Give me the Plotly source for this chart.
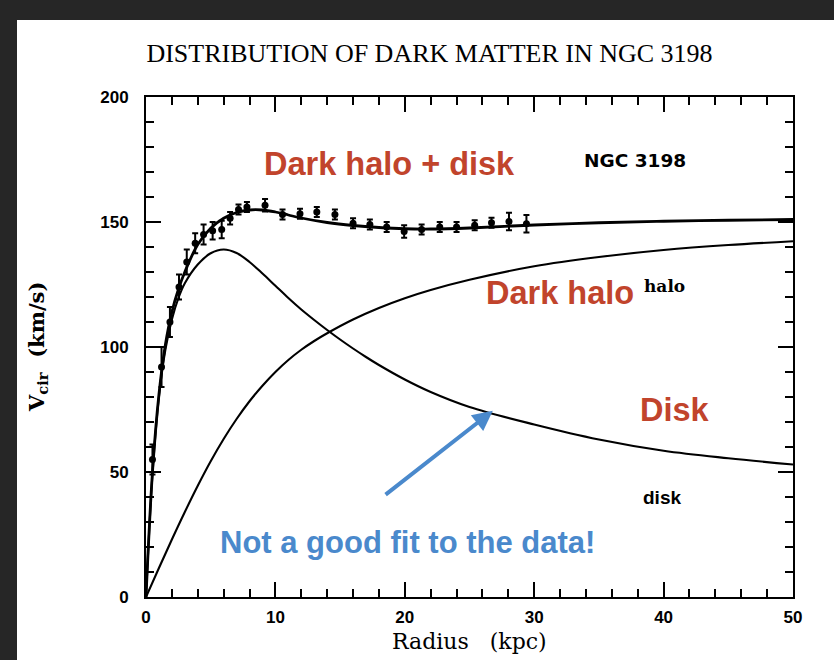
import plotly.graph_objects as go

# Observed rotation curve of NGC 3198: radius (kpc), circular velocity (km/s), error
obs_radius = [0.5, 1.2, 1.85, 2.55, 3.15, 3.8, 4.45, 5.15, 5.85, 6.5, 7.15, 7.8,
              9.2, 10.55, 11.9, 13.2, 14.6, 16.0, 17.3, 18.6, 19.95, 21.3, 22.7,
              24.0, 25.4, 26.7, 28.05, 29.4]
obs_vcir = [55, 92, 110, 124, 134, 141.5, 145, 146.5, 147, 151.5, 155, 156,
            156.7, 153, 153.3, 154, 153, 149.5, 149, 148, 146.2, 147, 148,
            148, 148.7, 149.7, 150.2, 149.3]
obs_err = [6, 8, 6, 5, 5, 4, 4, 3.5, 3.5, 2.5, 2, 2,
           2.5, 2, 2, 2, 2, 2, 2, 2, 2.5, 2, 2,
           2, 2, 2, 3.5, 3.5]

# Fitted components: disk + halo and their combined curve
total_radius = [0, 0.5, 1, 1.5, 2, 2.5, 3, 4, 5, 6, 7, 8, 9, 10, 11, 12, 14, 16,
                18, 20, 22, 25, 30, 35, 40, 45, 50]
v_total = [0, 50, 81, 101, 114, 123, 130, 141, 147.5, 151.5, 153.8, 154.8, 154.8,
           154, 152.8, 151.6, 149.8, 148.6, 147.8, 147.3, 147.2, 147.6, 148.8,
           149.7, 150.3, 150.7, 151]

disk_radius = [0, 0.5, 1, 1.5, 2, 2.5, 3, 4, 5, 6, 7, 8, 9, 10, 11, 12, 13, 14,
               15, 16, 17, 18, 20, 22, 25, 30, 35, 40, 45, 50]
v_disk = [0, 49, 80, 99, 111, 119.5, 125.5, 133, 137.5, 139, 137.6, 134, 129.4,
          124.5, 119.6, 115, 110.8, 106.8, 103, 99.4, 96, 92.8, 87, 82, 76, 69,
          63, 58.5, 55.5, 53]

halo_radius = [0, 1, 2, 3, 4, 5, 6, 7, 8, 9, 10, 11, 12, 13, 14, 16, 18, 20, 22,
               25, 30, 35, 40, 45, 50]
v_halo = [0, 11.6, 23, 34, 44.5, 54.3, 63.2, 71.2, 78.3, 84.5, 90, 94.8, 98.9,
          102.4, 105.5, 111, 115.6, 119.5, 122.8, 126.9, 132.3, 136, 138.8,
          140.8, 142.3]

x_ticks = [0, 10, 20, 30, 40, 50]
y_ticks = [0, 50, 100, 150, 200]

RED = "#c1442c"
BLUE = "#4a89cc"
BORDER = "#262626"

fig = go.Figure()

for rr, vals, w in [(total_radius, v_total, 2.8), (disk_radius, v_disk, 2.1),
                    (halo_radius, v_halo, 2.1)]:
    fig.add_trace(go.Scatter(
        x=rr, y=vals, mode="lines",
        line=dict(color="black", width=w, shape="spline", smoothing=1.0),
        hoverinfo="skip", showlegend=False))

fig.add_trace(go.Scatter(
    x=obs_radius, y=obs_vcir, mode="markers",
    marker=dict(color="black", size=7, symbol="circle"),
    error_y=dict(type="data", array=obs_err, visible=True,
                 color="black", thickness=2, width=3),
    showlegend=False))

axis_common = dict(
    showline=True, linecolor="black", linewidth=2, mirror="ticks",
    ticks="inside", ticklen=15, tickwidth=2, tickcolor="black",
    showgrid=False, zeroline=False, automargin=False,
    tickfont=dict(family="Liberation Sans", size=17, color="black", weight="bold"),
)

fig.update_xaxes(
    range=[0, 50], tickvals=x_ticks, ticktext=[str(t) for t in x_ticks],
    minor=dict(dtick=2, ticks="inside", ticklen=8, tickwidth=2, tickcolor="black"),
    ticklabelstandoff=4,
    **axis_common)
fig.update_yaxes(
    range=[0, 200], tickvals=y_ticks, ticktext=[str(t) for t in y_ticks],
    minor=dict(dtick=10, ticks="inside", ticklen=8, tickwidth=2, tickcolor="black"),
    ticklabelstandoff=12,
    **axis_common)

# Axis titles placed by hand
fig.add_annotation(x=0.5, y=(597 - 641) / 500, xref="paper", yref="paper",
                   xanchor="center", yanchor="middle",
                   text="Radius   (kpc)", showarrow=False,
                   font=dict(family="DejaVu Serif", size=22, color="black"))
fig.add_annotation(x=(37 - 146) / 647, y=0.5, xref="paper", yref="paper",
                   xanchor="center", yanchor="middle",
                   text="V<sub>cir</sub>  (km/s)", textangle=-90, showarrow=False,
                   font=dict(family="DejaVu Serif", size=21, color="black", weight="bold"))

notes = [
    ("Dark halo + disk", 18.8, 173.4, RED, "Liberation Sans", 32.5, "bold"),
    ("Dark halo", 32.0, 121.6, RED, "Liberation Sans", 32.5, "bold"),
    ("Disk", 40.85, 75, RED, "Liberation Sans", 32.5, "bold"),
    ("Not a good fit to the data!", 20.2, 22, BLUE, "Liberation Sans", 31, "bold"),
    ("NGC 3198", 37.8, 174.8, "black", "DejaVu Sans", 18.5, "bold"),
    ("halo", 40.1, 124.5, "black", "DejaVu Serif", 17, "bold"),
    ("disk", 39.85, 40, "black", "Liberation Sans", 19, "bold"),
]
for text, x, y, col, fam, size, wt in notes:
    fig.add_annotation(x=x, y=y, xref="x", yref="y", text=text, showarrow=False,
                       font=dict(family=fam, size=size, color=col, weight=wt))

# Arrow pointing at the disk curve
fig.add_annotation(x=26.8, y=74.5, ax=18.4, ay=40.5, xref="x", yref="y",
                   axref="x", ayref="y", text="", showarrow=True,
                   arrowhead=2, arrowsize=1, arrowwidth=4, arrowcolor=BLUE)

# Dark frame strips along the left and top edges of the page
fig.add_shape(type="rect", xref="paper", yref="paper", x0=-146 / 647, x1=-129 / 647,
              y0=-63 / 500, y1=1 + 97 / 500, fillcolor=BORDER, line_width=0, layer="below")
fig.add_shape(type="rect", xref="paper", yref="paper", x0=-146 / 647, x1=1 + 41 / 647,
              y0=1 + 77 / 500, y1=1 + 97 / 500, fillcolor=BORDER, line_width=0, layer="below")

fig.update_layout(
    width=834, height=660,
    margin=dict(l=146, r=41, t=97, b=63, autoexpand=False),
    paper_bgcolor="white", plot_bgcolor="white",
    title=dict(text="DISTRIBUTION OF DARK MATTER IN NGC 3198", x=0.515, xanchor="center",
               y=1 - 53 / 660, yanchor="middle",
               font=dict(family="Liberation Serif", size=26, color="black")),
)

fig.write_html("out.html")
